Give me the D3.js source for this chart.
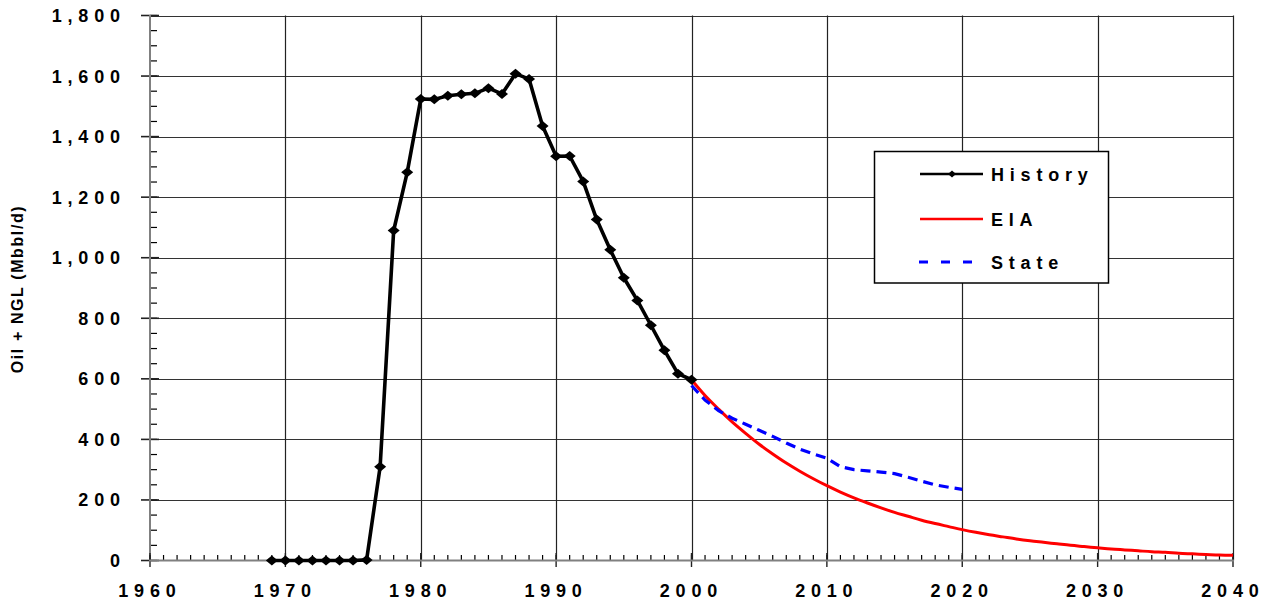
<!DOCTYPE html>
<html><head><meta charset="utf-8">
<script src="https://cdn.jsdelivr.net/npm/d3@7"></script>
<style>html,body{margin:0;padding:0;background:#fff;}svg{display:block;}</style>
</head><body>
<svg id="chart" width="1269" height="603"></svg>
<script>
const historyYears = [1969,1970,1971,1972,1973,1974,1975,1976,1977,1978,1979,1980,1981,1982,1983,1984,1985,1986,1987,1988,1989,1990,1991,1992,1993,1994,1995,1996,1997,1998,1999,2000];
const historyValues = [0,0,0,0,0,0,0,2,310,1090,1282,1524,1523,1535,1540,1543,1560,1541,1608,1590,1435,1335,1336,1252,1126,1026,934,859,777,694,617,597];
const eiaYears = [2000,2001,2002,2003,2004,2005,2006,2007,2008,2009,2010,2011,2012,2013,2014,2015,2016,2017,2018,2019,2020,2021,2022,2023,2024,2025,2026,2027,2028,2029,2030,2031,2032,2033,2034,2035,2036,2037,2038,2039,2040];
const eiaValues = [597,545,500,458,420,384,352,322,295,270,247,226,207,190,174,159,146,133,122,112,102,93,85,78,71,65,60,55,50,46,42,38,35,32,29,27,24,22,20,18,17];
const stateYears = [2000,2001,2002,2003,2004,2005,2006,2007,2008,2009,2010,2011,2012,2013,2014,2015,2016,2017,2018,2019,2020];
const stateValues = [578,530,495,470,450,430,410,388,368,352,338,310,300,296,292,287,275,262,250,242,235];
const xTicks = [1960,1970,1980,1990,2000,2010,2020,2030,2040];
const yTicks = [0,200,400,600,800,1000,1200,1400,1600,1800];
const seriesNames = ["History","EIA","State"];
const yLabel = "Oil + NGL (Mbbl/d)";

const svg = d3.select("#chart");
const x = d3.scaleLinear().domain([1960,2040]).range([150,1233]);
const y = d3.scaleLinear().domain([0,1800]).range([560.5,15.5]);
const font = "'Liberation Sans', Arial, sans-serif";
const FS = 18;
const LS = 5.8;

// gridlines
const grid = svg.append("g");
grid.selectAll("line.h").data(yTicks.filter(d=>d>0)).join("line")
  .attr("x1",150).attr("x2",1233).attr("y1",d=>Math.round(y(d))+0.5).attr("y2",d=>Math.round(y(d))+0.5)
  .attr("stroke","#333").attr("stroke-width",1.2);
grid.selectAll("line.v").data(xTicks.filter(d=>d>1960)).join("line")
  .attr("x1",d=>Math.round(x(d))+0.5).attr("x2",d=>Math.round(x(d))+0.5).attr("y1",15.5).attr("y2",560.5)
  .attr("stroke","#222").attr("stroke-width",1.2);

// y axis
const yAxis = svg.append("g");
yAxis.selectAll("line.minor").data(d3.range(0,1801,50)).join("line")
  .attr("x1",150).attr("x2",157).attr("y1",d=>y(d)).attr("y2",d=>y(d))
  .attr("stroke","#000").attr("stroke-width",1.2);
yAxis.selectAll("line.major").data(yTicks).join("line")
  .attr("x1",141).attr("x2",159).attr("y1",d=>y(d)).attr("y2",d=>y(d))
  .attr("stroke","#222").attr("stroke-width",1.6);
yAxis.append("line").attr("x1",150).attr("x2",150).attr("y1",15).attr("y2",561)
  .attr("stroke","#808080").attr("stroke-width",2);
yAxis.selectAll("text").data(yTicks).join("text")
  .attr("x",120+LS).attr("y",d=>y(d)).attr("dy","0.36em")
  .attr("text-anchor","end").attr("font-family",font).attr("font-weight","bold")
  .attr("font-size",FS).attr("letter-spacing",LS).attr("fill","#000")
  .text(d=>d3.format(",")(d));

// x axis
const xAxis = svg.append("g");
xAxis.selectAll("line.minor").data(d3.range(1960,2041,1)).join("line")
  .attr("x1",d=>x(d)).attr("x2",d=>x(d)).attr("y1",555).attr("y2",560.5)
  .attr("stroke","#000").attr("stroke-width",1.2);
xAxis.selectAll("line.major").data(xTicks).join("line")
  .attr("x1",d=>x(d)).attr("x2",d=>x(d)).attr("y1",553).attr("y2",567)
  .attr("stroke","#222").attr("stroke-width",1.4);
xAxis.append("line").attr("x1",149).attr("x2",1234).attr("y1",560.5).attr("y2",560.5)
  .attr("stroke","#808080").attr("stroke-width",2);
xAxis.selectAll("text").data(xTicks).join("text")
  .attr("x",d=>x(d)+LS/2-3).attr("y",596.5)
  .attr("text-anchor","middle").attr("font-family",font).attr("font-weight","bold")
  .attr("font-size",FS).attr("letter-spacing",LS).attr("fill","#000")
  .text(d=>d);

// y label
svg.append("text").attr("transform","translate(23,289) rotate(-90)")
  .attr("text-anchor","middle").attr("font-family",font).attr("font-weight","bold")
  .attr("font-size",16).attr("letter-spacing",1.6).attr("fill","#000").text(yLabel);

// series
const hist = historyYears.map((d,i)=>[d,historyValues[i]]);
const eia = eiaYears.map((d,i)=>[d,eiaValues[i]]);
const state = stateYears.map((d,i)=>[d,stateValues[i]]);

svg.append("path").datum(eia).attr("d",d3.line().x(d=>x(d[0])).y(d=>y(d[1])).curve(d3.curveMonotoneX)).attr("fill","none")
  .attr("stroke","#ff0000").attr("stroke-width",3);
svg.append("path").datum(state).attr("d",d3.line().x(d=>x(d[0])).y(d=>y(d[1]))).attr("fill","none")
  .attr("stroke","#0000ff").attr("stroke-width",3.2).attr("stroke-dasharray","10,6");
svg.append("path").datum(hist).attr("d",d3.line().x(d=>x(d[0])).y(d=>y(d[1]))).attr("fill","none")
  .attr("stroke","#000").attr("stroke-width",3.6).attr("stroke-linejoin","round");
const diamond = (w,h)=>`M0,${-h}L${w},0L0,${h}L${-w},0Z`;
svg.selectAll("path.mk").data(hist).join("path")
  .attr("transform",d=>`translate(${x(d[0])},${y(d[1])})`)
  .attr("d",diamond(6,5)).attr("fill","#000");

// legend
const lg = svg.append("g");
lg.append("rect").attr("x",874.5).attr("y",151.5).attr("width",234).attr("height",131.5)
  .attr("fill","#fff").attr("stroke","#000").attr("stroke-width",1.5);
const ly = [174,219,262];
lg.append("line").attr("x1",920).attr("x2",983).attr("y1",ly[0]).attr("y2",ly[0]).attr("stroke","#000").attr("stroke-width",2.5);
lg.append("path").attr("transform",`translate(952,${ly[0]})`).attr("d",diamond(4,3.5)).attr("fill","#000");
lg.append("line").attr("x1",920).attr("x2",983).attr("y1",ly[1]).attr("y2",ly[1]).attr("stroke","#ff0000").attr("stroke-width",2.5);
lg.append("line").attr("x1",919).attr("x2",973).attr("y1",ly[2]).attr("y2",ly[2]).attr("stroke","#0000ff").attr("stroke-width",3).attr("stroke-dasharray","9,13");
lg.selectAll("text").data(seriesNames).join("text")
  .attr("x",991).attr("y",(d,i)=>ly[i]+6.5)
  .attr("font-family",font).attr("font-weight","bold").attr("font-size",FS)
  .attr("letter-spacing",LS).attr("fill","#000").text(d=>d);
</script>
</body></html>
